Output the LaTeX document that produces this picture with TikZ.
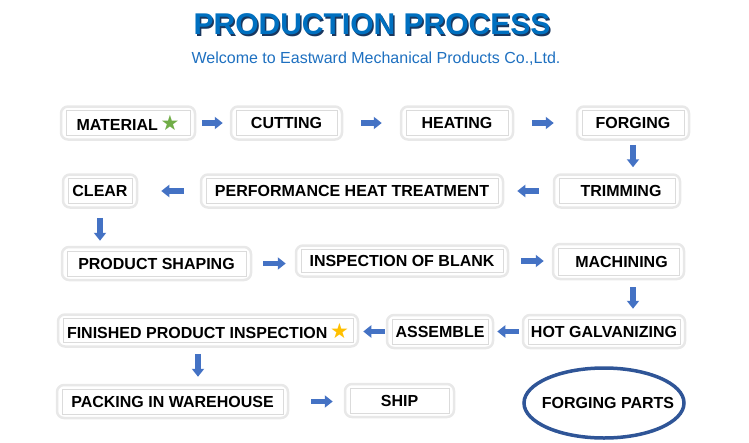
\documentclass[tikz,border=0pt]{standalone}
\usepackage{fontspec}
\setmainfont{Liberation Sans}
\newfontfamily\symfont{DejaVu Sans}
\usetikzlibrary{arrows.meta}

\definecolor{titleblue}{RGB}{0,112,192}
\definecolor{titleshade}{RGB}{25,55,95}
\definecolor{subblue}{RGB}{30,112,192}
\definecolor{arrowblue}{RGB}{68,114,196}
\definecolor{ringblue}{RGB}{47,85,151}
\definecolor{stargreen}{RGB}{112,173,71}
\definecolor{staryellow}{RGB}{255,192,0}

\begin{document}
\begin{tikzpicture}[x=1pt,y=-1pt]
\tikzstyle{stage}=[rectangle,rounded corners=7pt,draw=black!9,line width=2.5pt,fill=white,minimum height=33pt,inner sep=2pt,font=\fontsize{16}{19}\selectfont\bfseries,
  path picture={\draw[black!14,line width=0.7pt,sharp corners] ([xshift=5pt,yshift=-4pt]path picture bounding box.north west) rectangle ([xshift=-5pt,yshift=4pt]path picture bounding box.south east);}]
\tikzstyle{flow}=[-{Triangle[width=12pt,length=8pt]},line width=5.5pt,draw=arrowblue]

\useasboundingbox (0,0) rectangle (749,442);

% title
\node[font=\fontsize{30}{36}\selectfont\bfseries,text=titleshade] (titleshadow) at (373.5,26) {PRODUCTION PROCESS};
\node[font=\fontsize{30}{36}\selectfont\bfseries,text=titleblue] (title) at (372,24.5) {PRODUCTION PROCESS};
\node[font=\fontsize{16}{19}\selectfont,text=subblue] (subtitle) at (376,59) {Welcome to Eastward Mechanical Products Co.,Ltd.};

% steps
\node[stage,minimum width=134pt] (material) at (128,123) {MATERIAL\,{\fontsize{21}{21}\symfont\color{stargreen}★}};
\node[stage,minimum width=111pt] (cutting) at (286.5,123) {CUTTING};
\node[stage,minimum width=112pt] (heating) at (457,123) {HEATING};
\node[stage,minimum width=112pt] (forging) at (633,123) {FORGING};

\node[stage,minimum width=74pt] (clear) at (100,191) {CLEAR};
\node[stage,minimum width=302pt] (heattreat) at (352,191) {PERFORMANCE HEAT TREATMENT};
\node[stage,minimum width=126pt] (trimming) at (617,191) {\hspace*{8pt}TRIMMING};

\node[stage,minimum width=189pt] (shaping) at (156.5,263.5) {PRODUCT SHAPING};
\node[stage,minimum width=212pt,minimum height=31pt] (blank) at (402,261) {INSPECTION OF BLANK};
\node[stage,minimum width=131pt,minimum height=35pt] (machining) at (618.5,261.5) {\hspace*{6pt}MACHINING};

\node[stage,minimum width=300pt,minimum height=32pt] (finished) at (208,330.5) {FINISHED PRODUCT INSPECTION\,{\fontsize{21}{21}\symfont\color{staryellow}★}};
\node[stage,minimum width=106pt] (assemble) at (440,331.5) {ASSEMBLE};
\node[stage,minimum width=162pt] (galvanizing) at (604,331.5) {HOT GALVANIZING};

\node[stage,minimum width=231pt] (packing) at (172.5,401.5) {PACKING IN WAREHOUSE};
\node[stage,minimum width=109pt] (ship) at (399.5,400.5) {SHIP};

\node[font=\fontsize{16}{19}\selectfont\bfseries] (parts) at (608,403) {FORGING PARTS};
\draw[ringblue,line width=3.5pt] (604,403) ellipse [x radius=80pt,y radius=35pt];

% arrows
\draw[flow,shorten <=6pt,shorten >=7pt] (material) -- (material -| cutting.west);
\draw[flow,shorten <=18pt,shorten >=18pt] (cutting) -- (cutting -| heating.west);
\draw[flow,shorten <=18pt,shorten >=22pt] (heating) -- (heating -| forging.west);
\draw[flow,shorten <=4pt,shorten >=6pt] (forging) -- (forging |- trimming.north);
\draw[flow,shorten <=14pt,shorten >=13pt] (trimming) -- (trimming -| heattreat.east);
\draw[flow,shorten <=16pt,shorten >=23pt] (heattreat) -- (heattreat -| clear.east);
\draw[flow,shorten <=9pt,shorten >=5pt] (clear) -- (clear |- shaping.north);
\draw[flow,shorten <=11pt,shorten >=9pt] (shaping) -- (shaping -| blank.west);
\draw[flow,shorten <=12pt,shorten >=8pt] (blank) -- (blank -| machining.west);
\draw[flow,shorten <=7pt,shorten >=5pt] (machining.south -| forging) -- (galvanizing.north -| forging);
\draw[flow,shorten <=3pt,shorten >=3pt] (galvanizing) -- (galvanizing -| assemble.east);
\draw[flow,shorten <=1pt,shorten >=4pt] (assemble) -- (assemble -| finished.east);
\draw[flow,shorten <=6pt,shorten >=7pt] ([xshift=-10pt]finished.south) -- ([xshift=-10pt]finished.south |- packing.north);
\draw[flow,shorten <=22pt,shorten >=11pt] (packing) -- (packing -| ship.west);

\end{tikzpicture}
\end{document}
